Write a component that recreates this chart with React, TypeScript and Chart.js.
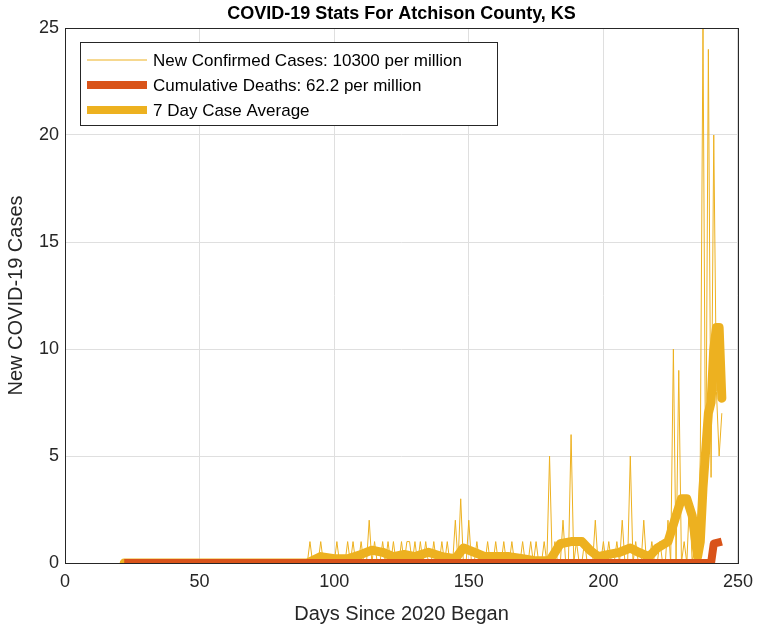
import React, { useEffect, useRef } from "react";
import Chart from "chart.js/auto";

const startDay = 22;
const endDay = 244;
const caseSpikes: [number, number][] = [
  [91, 1], [95, 1], [101, 1], [105, 1], [107, 1], [110, 1], [113, 2], [115, 1], [118, 1], [120, 1],
  [122, 1], [125, 1], [127, 1], [128, 1], [130, 1], [132, 1], [134, 1], [137, 1], [140, 1], [142, 1],
  [145, 2], [147, 3], [150, 2], [153, 1], [157, 1], [160, 1], [163, 1], [166, 1], [170, 1], [173, 1],
  [175, 1], [178, 1], [180, 5], [182, 1], [185, 2], [188, 6], [190, 1], [193, 1], [197, 2], [200, 1],
  [202, 1], [205, 1], [207, 2], [210, 5], [212, 1], [215, 2], [218, 1], [221, 1], [224, 2], [226, 10],
  [228, 9], [230, 1], [232, 3], [234, 1], [236, 5], [237, 25], [238, 3], [239, 24], [240, 4], [241, 20],
  [242, 8], [243, 5], [244, 7],
];
const deathPoints: [number, number][] = [[22, 0], [240, 0], [241, 0.9], [244, 1]];
const avgPoints: [number, number][] = [
  [22, 0], [90, 0], [95, 0.3], [100, 0.2], [105, 0.2], [110, 0.4], [114, 0.6], [118, 0.5], [122, 0.3],
  [126, 0.4], [130, 0.3], [135, 0.5], [140, 0.3], [145, 0.2], [148, 0.7], [152, 0.5], [156, 0.3],
  [160, 0.3], [165, 0.3], [170, 0.2], [175, 0.1], [180, 0.1], [184, 0.9], [188, 1.0], [192, 1.0],
  [195, 0.6], [198, 0.3], [202, 0.4], [206, 0.5], [210, 0.7], [213, 0.5], [217, 0.3], [220, 0.7],
  [224, 1.0], [227, 2.2], [229, 3.0], [231, 3.0], [233, 2.2], [235, 0.3], [236, 1.0], [237, 3.5],
  [239, 7], [240, 7.5], [241, 10], [242, 11], [243, 11], [244, 7.7],
];
const legendLabels = ["New Confirmed Cases: 10300 per million", "Cumulative Deaths: 62.2 per million", "7 Day Case Average"];
const titleText = "COVID-19 Stats For Atchison County, KS";

const FONT = "'Liberation Sans', Arial, sans-serif";
const YEL = "#EDB120";
const ORG = "#D95319";

export default function App() {
  const ref = useRef<HTMLCanvasElement>(null);
  useEffect(() => {
    const spikeMap = new Map(caseSpikes);
    const cases: { x: number; y: number }[] = [];
    for (let d = startDay; d <= endDay; d++) cases.push({ x: d, y: spikeMap.get(d) ?? 0 });
    const deco = {
      id: "deco",
      afterDraw(c: any) {
        const ctx = c.ctx;
        const a = c.chartArea;
        ctx.save();
        ctx.strokeStyle = "#262626";
        ctx.lineWidth = 1;
        ctx.strokeRect(a.left + 0.5, a.top + 0.5, a.right - a.left, a.bottom - a.top);
        ctx.fillStyle = "#000";
        ctx.font = `bold 18px ${FONT}`;
        ctx.textAlign = "center";
        ctx.textBaseline = "middle";
        ctx.fillText(titleText, (a.left + a.right) / 2, 14);
        const lx = 80, ly = 42, lw = 417, lh = 83;
        ctx.fillStyle = "#fff";
        ctx.fillRect(lx, ly, lw, lh);
        ctx.strokeStyle = "#262626";
        ctx.strokeRect(lx + 0.5, ly + 0.5, lw, lh);
        const cols = [YEL, ORG, YEL];
        const widths = [1, 8, 8];
        ctx.font = `17px ${FONT}`;
        ctx.textAlign = "left";
        legendLabels.forEach((t, i) => {
          const yy = ly + 18 + i * 25;
          ctx.strokeStyle = cols[i];
          ctx.lineWidth = widths[i];
          ctx.beginPath();
          ctx.moveTo(lx + 7, yy);
          ctx.lineTo(lx + 67, yy);
          ctx.stroke();
          ctx.fillStyle = "#000";
          ctx.fillText(t, lx + 73, yy + 1);
        });
        ctx.restore();
      },
    };
    const chart = new Chart(ref.current!, {
      type: "line",
      data: {
        datasets: [
          { data: cases, borderColor: YEL, borderWidth: 1, pointRadius: 0, order: 3 },
          { data: avgPoints.map(([x, y]) => ({ x, y })), borderColor: YEL, borderWidth: 9, pointRadius: 0, order: 2, borderJoinStyle: "round" as const, borderCapStyle: "round" as const },
          { data: deathPoints.map(([x, y]) => ({ x, y })), borderColor: ORG, borderWidth: 8, pointRadius: 0, order: 1, borderJoinStyle: "round" as const },
        ],
      },
      options: {
        animation: false,
        responsive: false,
        layout: { padding: { top: 28, right: 6, left: 0, bottom: 0 } },
        plugins: { legend: { display: false }, tooltip: { enabled: false } },
        scales: {
          x: {
            type: "linear", min: 0, max: 250,
            ticks: { stepSize: 50, color: "#262626", font: { size: 18, family: FONT }, maxRotation: 0, padding: 8 },
            grid: { color: "#dfdfdf", drawTicks: false },
            border: { display: false },
            title: { display: true, text: "Days Since 2020 Began", color: "#262626", font: { size: 20, family: FONT }, padding: { top: 4 } },
            afterFit(s: any) { s.height = 67; },
          },
          y: {
            min: 0, max: 25,
            ticks: { stepSize: 5, color: "#262626", font: { size: 18, family: FONT }, padding: 6 },
            grid: { color: "#dfdfdf", drawTicks: false },
            border: { display: false },
            title: { display: true, text: "New COVID-19 Cases", color: "#262626", font: { size: 20, family: FONT } },
            afterFit(s: any) { s.width = 65; },
          },
        },
      },
      plugins: [deco],
    } as any);
    return () => chart.destroy();
  }, []);
  return (
    <div style={{ position: "absolute", left: 0, top: 0, width: 761, height: 630, background: "#fff" }}>
      <canvas ref={ref} width={761} height={630} style={{ width: 761, height: 630 }} />
    </div>
  );
}
